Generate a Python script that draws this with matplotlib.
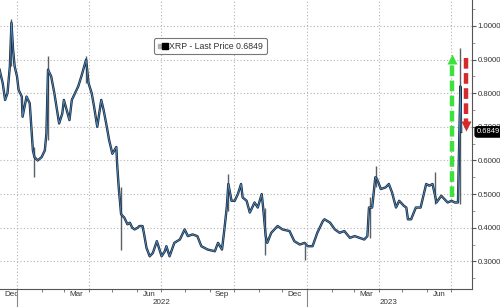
import matplotlib
matplotlib.use('Agg')
import matplotlib.pyplot as plt
import matplotlib.dates as mdates
import matplotlib.transforms as mtransforms
from matplotlib.lines import Line2D
from matplotlib.legend_handler import HandlerTuple
import pandas as pd

# XRP price (roughly every few days)
dates = ['2021-12-10', '2021-12-14', '2021-12-17', '2021-12-20', '2021-12-23', '2021-12-25',
         '2021-12-27', '2021-12-29', '2022-01-01', '2022-01-03', '2022-01-07', '2022-01-08',
         '2022-01-13', '2022-01-17', '2022-01-21', '2022-01-23', '2022-01-27', '2022-02-01',
         '2022-02-05', '2022-02-07', '2022-02-09', '2022-02-13', '2022-02-17', '2022-02-23',
         '2022-02-27', '2022-03-01', '2022-03-08', '2022-03-11', '2022-03-15', '2022-03-19',
         '2022-03-23', '2022-03-29', '2022-04-01', '2022-04-05', '2022-04-08', '2022-04-12',
         '2022-04-17', '2022-04-20', '2022-04-24', '2022-04-27', '2022-05-01', '2022-05-06',
         '2022-05-07', '2022-05-09', '2022-05-12', '2022-05-16', '2022-05-20', '2022-05-23',
         '2022-05-26', '2022-05-29', '2022-06-02', '2022-06-04', '2022-06-08', '2022-06-10',
         '2022-06-13', '2022-06-17', '2022-06-21', '2022-06-26', '2022-06-30', '2022-07-02',
         '2022-07-06', '2022-07-08', '2022-07-12', '2022-07-18', '2022-07-25', '2022-07-31',
         '2022-08-04', '2022-08-10', '2022-08-16', '2022-08-21', '2022-08-29', '2022-09-07',
         '2022-09-11', '2022-09-16', '2022-09-19', '2022-09-22', '2022-09-24', '2022-09-28',
         '2022-10-02', '2022-10-06', '2022-10-10', '2022-10-12', '2022-10-17', '2022-10-21',
         '2022-10-27', '2022-10-31', '2022-11-05', '2022-11-07', '2022-11-10', '2022-11-12',
         '2022-11-17', '2022-11-25', '2022-12-01', '2022-12-10', '2022-12-16', '2022-12-23',
         '2022-12-29', '2023-01-02', '2023-01-08', '2023-01-14', '2023-01-21', '2023-01-23',
         '2023-01-30', '2023-02-05', '2023-02-11', '2023-02-17', '2023-02-24', '2023-03-02',
         '2023-03-08', '2023-03-14', '2023-03-18', '2023-03-20', '2023-03-24', '2023-03-28',
         '2023-03-30', '2023-04-04', '2023-04-10', '2023-04-14', '2023-04-18', '2023-04-23',
         '2023-04-27', '2023-04-29', '2023-05-03', '2023-05-06', '2023-05-08', '2023-05-12',
         '2023-05-18', '2023-05-24', '2023-05-31', '2023-06-04', '2023-06-08', '2023-06-13',
         '2023-06-19', '2023-06-23', '2023-06-27', '2023-07-02', '2023-07-06', '2023-07-10',
         '2023-07-13', '2023-07-14']
close = [0.87, 0.83, 0.78, 0.80, 0.88, 1.01,
         0.93, 0.88, 0.85, 0.81, 0.79, 0.73,
         0.79, 0.77, 0.63, 0.61, 0.60, 0.61,
         0.63, 0.68, 0.87, 0.85, 0.80, 0.71,
         0.74, 0.78, 0.72, 0.78, 0.80, 0.82,
         0.85, 0.90, 0.83, 0.80, 0.76, 0.70,
         0.78, 0.75, 0.70, 0.66, 0.62, 0.64,
         0.59, 0.52, 0.44, 0.43, 0.41, 0.415,
         0.40, 0.395, 0.40, 0.405, 0.405, 0.38,
         0.34, 0.315, 0.325, 0.36, 0.33, 0.315,
         0.33, 0.345, 0.315, 0.355, 0.365, 0.395,
         0.375, 0.38, 0.375, 0.345, 0.335, 0.33,
         0.355, 0.335, 0.395, 0.46, 0.53, 0.48,
         0.48, 0.50, 0.53, 0.49, 0.48, 0.445,
         0.475, 0.46, 0.50, 0.455, 0.375, 0.355,
         0.385, 0.405, 0.395, 0.39, 0.36, 0.35,
         0.355, 0.345, 0.345, 0.385, 0.42, 0.425,
         0.415, 0.395, 0.385, 0.39, 0.37, 0.375,
         0.37, 0.365, 0.375, 0.46, 0.46, 0.55,
         0.545, 0.515, 0.52, 0.53, 0.505, 0.46,
         0.48, 0.475, 0.465, 0.46, 0.425, 0.425,
         0.46, 0.46, 0.53, 0.525, 0.53, 0.475,
         0.495, 0.485, 0.475, 0.48, 0.475, 0.475,
         0.82, 0.6849]

# long intraday wicks
wick_dates = ['2021-12-25', '2022-01-22', '2022-02-09', '2022-03-29', '2022-05-12',
              '2022-09-23', '2022-11-09', '2022-12-30', '2023-03-21', '2023-03-29',
              '2023-06-11', '2023-07-13']
wick_low = [0.88, 0.55, 0.66, 0.83, 0.335, 0.45, 0.32, 0.305, 0.37, 0.52, 0.47, 0.47]
wick_high = [1.02, 0.64, 0.91, 0.91, 0.52, 0.56, 0.46, 0.35, 0.49, 0.585, 0.565, 0.935]

month_labels = ['Dec', 'Mar', 'Jun', 'Sep', 'Dec', 'Mar', 'Jun']
label_dates = ['2021-12-16', '2022-03-16', '2022-06-16', '2022-09-16', '2022-12-16',
               '2023-03-16', '2023-06-16']

last_price = 0.6849
up_arrow = ('2023-07-02', 0.49, 0.915)
down_arrow = ('2023-07-20', 0.905, 0.69)

x = pd.to_datetime(dates)
wx = pd.to_datetime(wick_dates)

plt.rcParams['font.family'] = ['Liberation Sans', 'DejaVu Sans']
fig = plt.figure(figsize=(5, 3.07), dpi=100)
ax = fig.add_axes([0, 0.0576, 0.944, 0.9424])

# gridlines
for v in [0.3, 0.4, 0.5, 0.6, 0.7, 0.8, 0.9, 1.0]:
    ax.axhline(v, color='#b4b4b4', lw=0.8, ls=(0, (1, 2)), zorder=0)
for d in ['2022-01-01', '2022-04-01', '2022-07-01', '2022-10-01', '2023-01-01',
          '2023-04-01', '2023-07-01']:
    ax.axvline(pd.Timestamp(d), color='#b4b4b4', lw=0.8, ls=(0, (1, 2)), zorder=0)

# price
ax.vlines(wx, wick_low, wick_high, color='#5a6068', lw=1.0, zorder=2)
ax.plot(x, close, color='#1e2833', lw=1.7, zorder=3)
ax.plot(x, close, color='#4a8fd0', lw=0.6, zorder=4)

# arrows
ux = pd.Timestamp(up_arrow[0])
ax.plot([ux, ux], [up_arrow[1], up_arrow[2] - 0.02], color='#3ee03e', lw=3.2,
        ls=(0, (2.4, 1.0)), zorder=5)
ax.plot([ux], [up_arrow[2] - 0.012], marker='^', ms=7, color='#3ee03e', mec='none', zorder=5)
dx = pd.Timestamp(down_arrow[0])
ax.plot([dx, dx], [down_arrow[1], down_arrow[2] + 0.025], color='#d42a2a', lw=3.2,
        ls=(0, (2.4, 1.0)), zorder=5)
ax.plot([dx], [down_arrow[2] + 0.013], marker='v', ms=7, color='#d42a2a', mec='none', zorder=5)

ax.set_xlim(pd.Timestamp('2021-12-10 14:00'), pd.Timestamp('2023-07-27 16:00'))
ax.set_ylim(0.2168, 1.0772)

# axes styling
for s in ['top', 'left']:
    ax.spines[s].set_visible(False)
for s in ['right', 'bottom']:
    ax.spines[s].set_color('#555555')
    ax.spines[s].set_linewidth(0.8)

ax.yaxis.tick_right()
ax.set_yticks([0.3, 0.4, 0.5, 0.6, 0.7, 0.8, 0.9, 1.0])
ax.set_yticks([0.25, 0.35, 0.45, 0.55, 0.65, 0.75, 0.85, 0.95, 1.05], minor=True)
ax.yaxis.set_major_formatter(matplotlib.ticker.FormatStrFormatter('%.4f'))
ax.tick_params(axis='y', which='major', length=3, width=0.8, color='#555555',
               labelsize=5.6, labelcolor='#333333', pad=1)
ax.tick_params(axis='y', which='minor', length=2, width=0.6, color='#888888')

# x: month ticks, quarter labels centred in the month
ax.xaxis.set_major_locator(mdates.MonthLocator())
ax.xaxis.set_major_formatter(matplotlib.ticker.NullFormatter())
ax.set_xticks(pd.to_datetime(label_dates), month_labels, minor=True)
ax.tick_params(axis='x', which='minor', length=0, labelsize=5.8, labelcolor='#333333', pad=1)
ax.tick_params(axis='x', which='major', length=2, width=0.6, color='#666666')
ax.get_xticklabels(minor=True)[0].set_ha('left')

trans = mtransforms.blended_transform_factory(ax.transData, ax.transAxes)
for d in ['2022-01-01', '2023-01-01']:
    t = pd.Timestamp(d)
    ax.plot([t, t], [0, -0.065], color='#888888', lw=0.8, transform=trans, clip_on=False)
ax.text(pd.Timestamp('2022-07-02'), -0.047, '2022', transform=trans, ha='center',
        va='center', fontsize=5.8, color='#333333')
ax.text(pd.Timestamp('2023-04-14'), -0.047, '2023', transform=trans, ha='center',
        va='center', fontsize=5.8, color='#333333')

# last price tag
ax.annotate(f'{last_price:.4f}', xy=(1.01, last_price), xycoords=('axes fraction', 'data'),
            ha='left', va='center', fontsize=5.4, color='white',
            bbox=dict(boxstyle='round,pad=0.22,rounding_size=0.3', fc='black', ec='black'),
            annotation_clip=False, zorder=10)

# legend
h1 = Line2D([], [], ls='none', marker='s', ms=3, color='#b0b0b0')
h2 = Line2D([], [], ls='none', marker='s', ms=5, color='black')
leg = ax.legend([(h1, h2)], [f'XRP - Last Price {last_price:.4f}'],
                handler_map={tuple: HandlerTuple(ndivide=None, pad=0.05)},
                loc='upper left', bbox_to_anchor=(0.318, 0.883), fontsize=6.3,
                frameon=True, fancybox=True, handlelength=1.0, handletextpad=0.3,
                borderpad=0.4, labelcolor='#333333')
leg.get_frame().set_edgecolor('#555555')
leg.get_frame().set_linewidth(0.8)

fig.savefig('out.png', dpi=100)
